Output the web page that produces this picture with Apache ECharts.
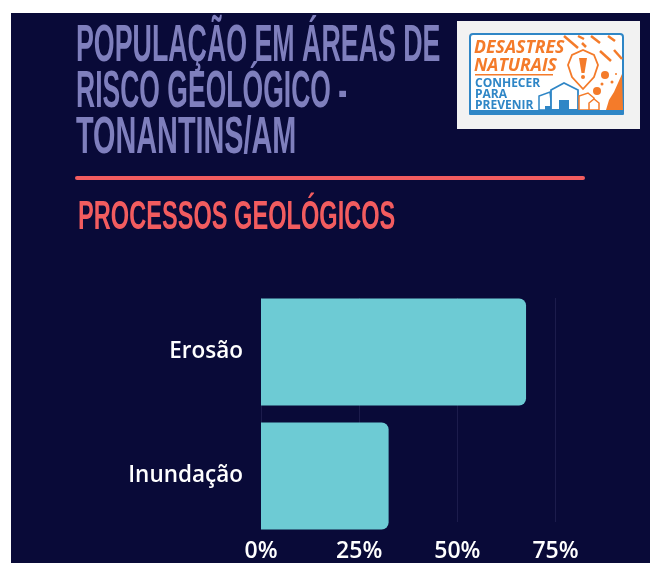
<!DOCTYPE html>
<html>
<head>
<meta charset="utf-8">
<style>
  html, body { margin: 0; padding: 0; background: #fff; overflow: hidden; }
  #bg { position: absolute; left: 11px; top: 13px; width: 639px; height: 550px; background: #090a38; }
  #main { position: absolute; left: 0; top: 0; width: 650px; height: 563px; }
</style>
<script src="https://cdn.jsdelivr.net/npm/echarts@6/dist/echarts.min.js"></script>
</head>
<body>
<div id="bg"></div>
<div id="main"></div>
<script>
const categories = ["Erosão", "Inundação"];
const values = [67.5, 32.5];
const tickValues = [0, 25, 50, 75];
const titleLines = ["POPULAÇÃO EM ÁREAS DE", "RISCO GEOLÓGICO -", "TONANTINS/AM"];
const subtitle = "PROCESSOS GEOLÓGICOS";

const NARROW = '"Liberation Sans", sans-serif';
const ORANGE = "#f47b2a";
const BLUE = "#2f86c6";
// the original title font is condensed, so each line gets squeezed to its width
const titleSqueeze = [0.525, 0.52, 0.565];

function heading(text, x, y, size, scaleX, color) {
  return {
    type: "text", x: x, y: y, scaleX: scaleX, originX: 0,
    style: { text: text, fill: color, font: "bold " + size + "px " + NARROW }
  };
}
function logoText(text, x, y, font, color, scaleX) {
  return { type: "text", x: x, y: y, z: 5, scaleX: scaleX || 1, originX: 0, style: { text: text, fill: color, font: font } };
}
function poly(points, fill, stroke, lineWidth) {
  return { type: "polygon", z: 4, shape: { points: points }, style: { fill: fill, stroke: stroke, lineWidth: lineWidth || 0 } };
}
function dash(x1, y1, x2, y2) {
  return { type: "line", z: 4, shape: { x1: x1, y1: y1, x2: x2, y2: y2 }, style: { stroke: ORANGE, lineWidth: 2.5 } };
}
function dot(cx, cy, r) {
  return { type: "circle", z: 4, shape: { cx: cx, cy: cy, r: r }, style: { fill: ORANGE } };
}

const logo = [
  { type: "rect", z: 3, shape: { x: 457, y: 21, width: 183, height: 108 }, style: { fill: "#f2f2f2" } },
  { type: "rect", z: 3, shape: { x: 470, y: 34, width: 153, height: 80, r: 3 }, style: { fill: "#fff", stroke: BLUE, lineWidth: 2 } },
  poly([[606, 110], [609, 100], [614, 92], [622, 74], [623, 110]], ORANGE),
  dash(564, 36, 578, 48), dash(578, 36, 584, 39), dash(591, 36, 600, 43), dash(608, 36, 615, 41),
  dash(582, 43, 586, 47), dash(600, 51, 611, 61), dash(614, 50, 622, 59),
  dot(605, 75, 4), dot(597, 91, 4), dot(612, 82, 1.5), dot(602, 84, 1.5), dot(616, 74, 1),
  poly([[583, 89], [572, 77], [568, 65], [572, 55], [583, 50], [594, 55], [598, 65], [594, 77]], "#fff", ORANGE, 1.8),
  poly([[579, 58], [587, 58], [584.5, 73], [581.5, 73]], ORANGE),
  dot(583, 77, 2),
  poly([[539, 110], [539, 96], [550, 92], [552, 110]], "#fff", BLUE, 1.5),
  poly([[551, 110], [551, 90], [564, 83], [578, 90], [578, 110]], "#fff", BLUE, 1.8),
  { type: "rect", z: 5, shape: { x: 559, y: 100, width: 10, height: 10 }, style: { fill: BLUE } },
  { type: "rect", z: 5, shape: { x: 545, y: 106, width: 6, height: 4 }, style: { fill: BLUE } },
  poly([[579, 110], [579, 96], [588, 93], [594, 98], [594, 110]], "#fff", ORANGE, 1.5),
  poly([[589, 110], [589, 103], [594, 99], [599, 103], [599, 110]], "#fff", ORANGE, 1.5),
  { type: "rect", z: 5, shape: { x: 469, y: 110, width: 155, height: 5, r: 1 }, style: { fill: BLUE } },
  logoText("DESASTRES", 474, 39.5, 'italic bold 17px "Open Sans"', ORANGE, 1.04),
  logoText("NATURAIS", 474, 57.5, 'italic bold 17px "Open Sans"', ORANGE, 1.04),
  { type: "rect", z: 5, shape: { x: 475, y: 74, width: 78, height: 1.5 }, style: { fill: ORANGE } },
  logoText("CONHECER", 475, 77.5, 'bold 12px "Open Sans"', BLUE),
  logoText("PARA", 475, 88.5, 'bold 12px "Open Sans"', BLUE),
  logoText("PREVENIR", 475, 99.2, 'bold 12px "Open Sans"', BLUE)
];

const chart = echarts.init(document.getElementById("main"));
chart.setOption({
  animation: false,
  textStyle: { fontFamily: '"Open Sans", sans-serif' },
  grid: [
    { left: 261, top: 290, width: 294.5, height: 248 },
    { left: 261, top: 298, width: 294.5, height: 231 }
  ],
  xAxis: [
    { type: "value", gridIndex: 0, min: 0, max: 75, show: false },
    {
      type: "value", gridIndex: 1, min: tickValues[0], max: tickValues[tickValues.length - 1], interval: 25,
      axisLine: { show: false }, axisTick: { show: false },
      axisLabel: { color: "#fff", fontSize: 23, fontWeight: 600, margin: 18, formatter: "{value}%", hideOverlap: false },
      splitLine: { show: true, lineStyle: { color: "#1c1c4c", width: 1 } }
    }
  ],
  yAxis: [
    {
      type: "category", gridIndex: 0, data: categories, inverse: true,
      axisLine: { show: false }, axisTick: { show: false },
      axisLabel: { color: "#fff", fontSize: 22.5, fontWeight: 600, margin: 18, padding: [3, 0, 0, 0] }
    },
    { type: "value", gridIndex: 1, show: false }
  ],
  series: [{
    type: "bar", xAxisIndex: 0, yAxisIndex: 0, data: values, barWidth: 107,
    itemStyle: { color: "#6dcbd4", borderRadius: [0, 7, 7, 0] }
  }],
  graphic: [
    ...titleLines.map((t, i) => heading(t, 76, 21 + i * 46, 51, titleSqueeze[i], "#7f7fbd")),
    { type: "rect", shape: { x: 75, y: 176, width: 510, height: 4, r: 2 }, style: { fill: "#f25c5f" } },
    heading(subtitle, 78, 198, 40, 0.59, "#f25c5f"),
    ...logo
  ]
});
</script>
</body>
</html>
